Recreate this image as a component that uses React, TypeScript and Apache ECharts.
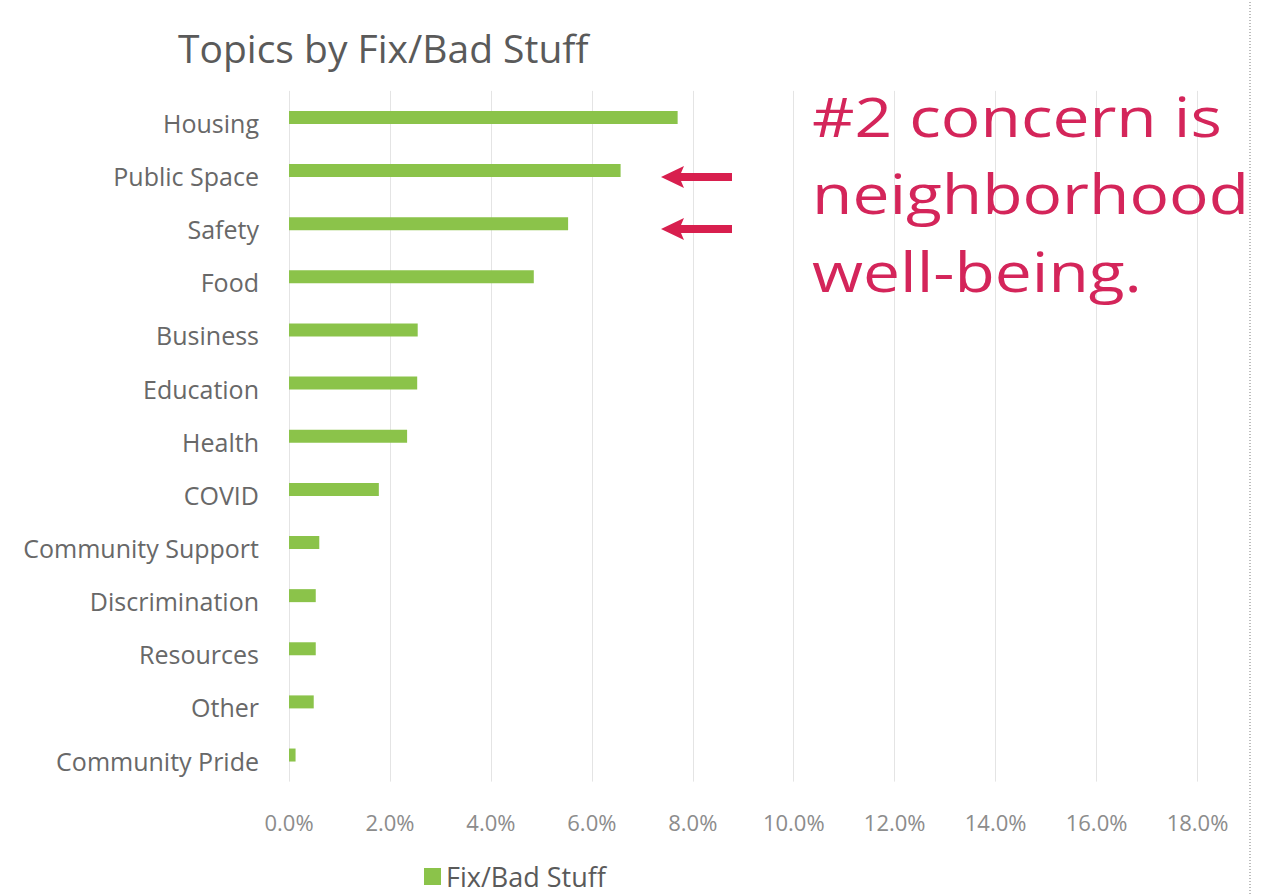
import React, { useEffect, useRef } from "react";
import * as echarts from "echarts";

const categories = [
  "Housing",
  "Public Space",
  "Safety",
  "Food",
  "Business",
  "Education",
  "Health",
  "COVID",
  "Community Support",
  "Discrimination",
  "Resources",
  "Other",
  "Community Pride",
];
const fixBadStuff = [7.7, 6.57, 5.53, 4.85, 2.55, 2.54, 2.34, 1.78, 0.6, 0.53, 0.53, 0.49, 0.13];
const xTicks = { min: 0, max: 18, interval: 2 };
const seriesName = "Fix/Bad Stuff";
const titleText = "Topics by Fix/Bad Stuff";
const noteLines = ["#2 concern is", "neighborhood", "well-being."];

const FONT = "'Open Sans', sans-serif";
const GREEN = "#8bc34a";
const RED = "#d4255a";
const ARROW = "#d81f4e";

function arrow(tipX: number, y: number) {
  return {
    type: "polygon",
    shape: {
      points: [
        [tipX, y],
        [tipX + 23, y - 11],
        [tipX + 20, y - 4],
        [tipX + 71, y - 4],
        [tipX + 71, y + 4],
        [tipX + 20, y + 4],
        [tipX + 23, y + 11],
      ],
    },
    style: { fill: ARROW },
    z: 10,
  };
}

export default function App() {
  const ref = useRef<HTMLDivElement>(null);
  useEffect(() => {
    if (!ref.current) return;
    const chart = echarts.init(ref.current, undefined, { renderer: "svg" });
    const noteY = [116, 193, 271];
    chart.setOption({
      animation: false,
      backgroundColor: "#ffffff",
      title: {
        text: titleText,
        left: 178,
        top: 28,
        padding: 0,
        textStyle: { fontFamily: FONT, fontSize: 39, fontWeight: "normal", color: "#5a5a5a" },
      },
      legend: {
        data: [seriesName],
        left: 424,
        top: 863,
        padding: 0,
        icon: "rect",
        itemWidth: 17,
        itemHeight: 17,
        itemGap: 8,
        textStyle: { fontFamily: FONT, fontSize: 27, color: "#5a5a5a" },
      },
      grid: { left: 289, right: 63.5, top: 90.9, bottom: 113.4, containLabel: false },
      xAxis: {
        type: "value",
        min: xTicks.min,
        max: xTicks.max,
        interval: xTicks.interval,
        axisLine: { show: false },
        axisTick: { show: false },
        splitLine: { show: true, lineStyle: { color: "#e4e4e4", width: 1 } },
        axisLabel: {
          margin: 29,
          fontFamily: FONT,
          fontSize: 22,
          color: "#8c8c8c",
          formatter: (v: number) => `${v.toFixed(1)}%`,
        },
      },
      yAxis: {
        type: "category",
        data: categories,
        inverse: true,
        axisLine: { show: false },
        axisTick: { show: false },
        axisLabel: {
          margin: 30,
          fontFamily: FONT,
          fontSize: 25,
          color: "#686868",
          verticalAlign: "top",
          lineHeight: 11,
        },
      },
      series: [
        {
          name: seriesName,
          type: "bar",
          data: fixBadStuff,
          barWidth: 13,
          itemStyle: { color: GREEN },
        },
      ],
      graphic: [
        ...noteLines.map((t, i) => ({
          type: "text",
          x: 812,
          y: noteY[i],
          scaleX: 1.22,
          z: 10,
          style: {
            text: t,
            fontFamily: FONT,
            fontSize: 54,
            fill: RED,
            align: "left",
            verticalAlign: "middle",
          },
        })),
        arrow(661, 177),
        arrow(661, 229),
        {
          type: "line",
          shape: { x1: 1250, y1: 2, x2: 1250, y2: 895 },
          style: { stroke: "#bdbdbd", lineWidth: 2, lineDash: [1, 2] },
        },
      ],
    });
    return () => chart.dispose();
  }, []);
  return (
    <div
      ref={ref}
      style={{ position: "fixed", left: 0, top: 0, width: 1261, height: 895, background: "#fff" }}
    />
  );
}
